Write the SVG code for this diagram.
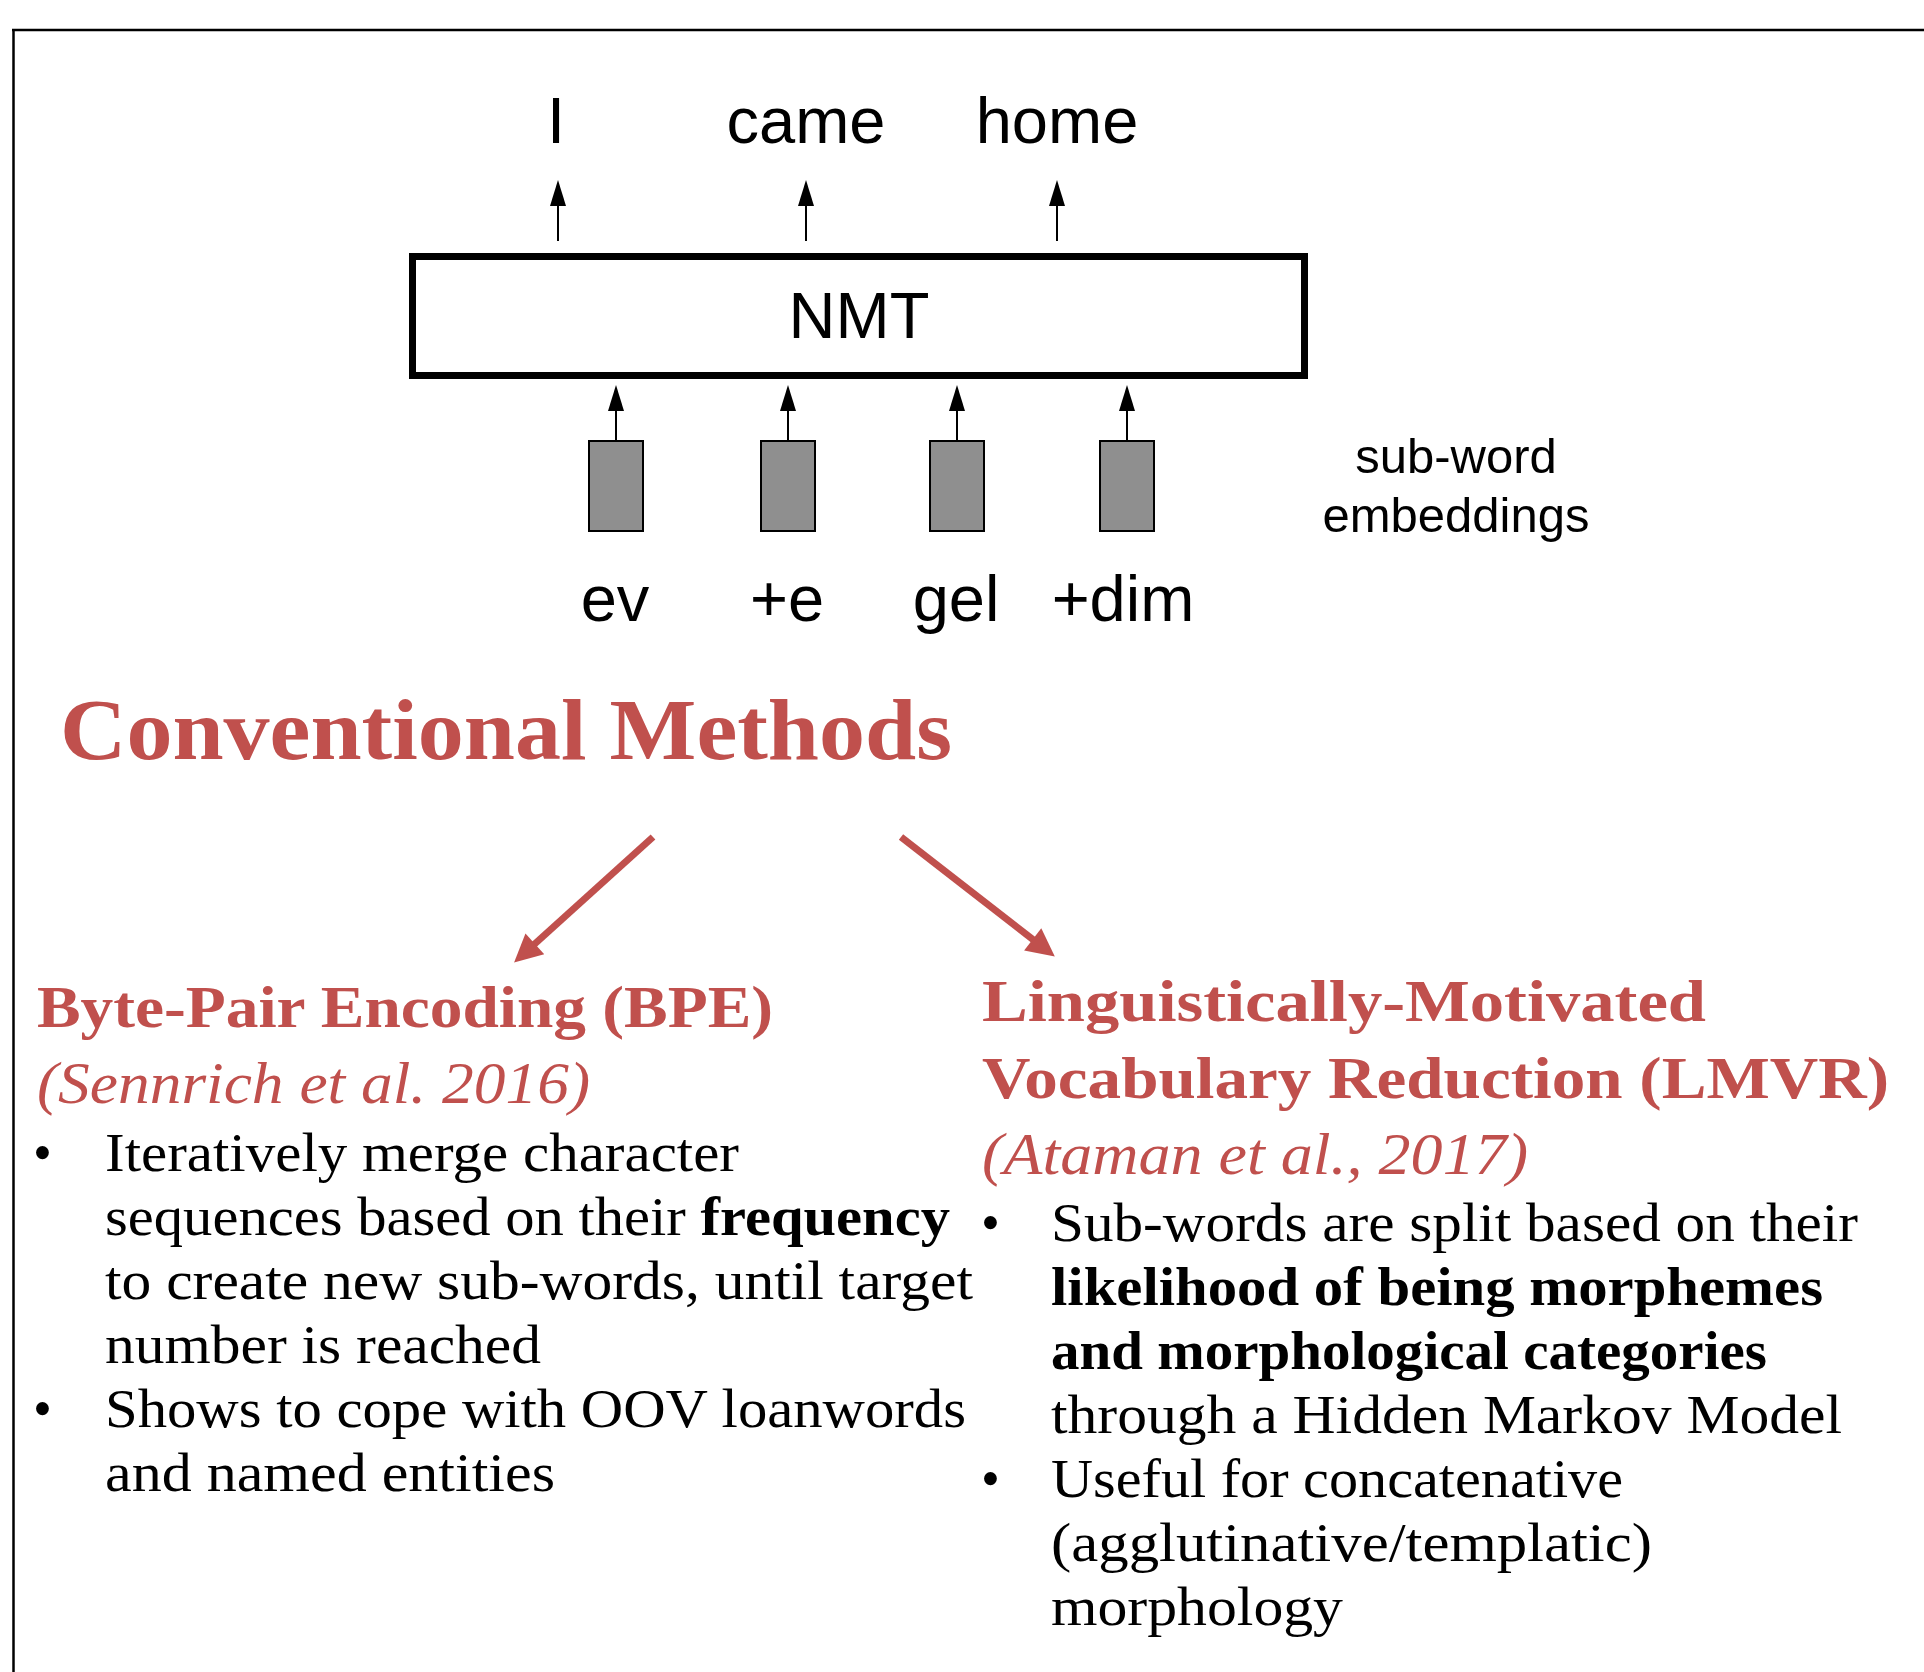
<svg xmlns="http://www.w3.org/2000/svg" width="1924" height="1672" viewBox="0 0 1924 1672">
<style>
.sans{font-family:"Liberation Sans",Arial,sans-serif;fill:#000;text-anchor:middle}
.lbl{font-size:65px}
.small{font-size:49px}
.head{font-family:"Liberation Serif","Times New Roman",serif;fill:#C0504D;font-weight:bold}
.cite{font-family:"Liberation Serif","Times New Roman",serif;fill:#C0504D;font-style:italic;font-size:60px}
.body{font-family:"Liberation Serif","Times New Roman",serif;fill:#000;font-size:54px}
.b{font-weight:bold}
.emb{fill:#8F8F8F;stroke:#000;stroke-width:2}
.blk{stroke:#000;stroke-width:2;fill:none}
.red{stroke:#C0504D;stroke-width:7;fill:none}
</style>
<defs>
<marker id="ah" viewBox="0 0 26 16" markerWidth="26" markerHeight="16" refX="11" refY="8" orient="auto" markerUnits="userSpaceOnUse">
<path d="M0,0 L26,8 L0,16 z" fill="#000"/>
</marker>
<marker id="rah" viewBox="0 0 10 10" markerWidth="30" markerHeight="28" refX="3.3" refY="5" orient="auto" markerUnits="userSpaceOnUse">
<path d="M0,0 L10,5 L0,10 z" fill="#C0504D"/>
</marker>
</defs>
<rect width="1924" height="1672" fill="#fff"/>
<g id="frame">
<line x1="12" y1="30" x2="1924" y2="30" stroke="#000" stroke-width="2.5"/>
<line x1="13.5" y1="29" x2="13.5" y2="1672" stroke="#000" stroke-width="2.5"/>
</g>
<g id="outputs">
<text class="sans lbl" x="556" y="143">I</text>
<text class="sans lbl" x="806" y="143">came</text>
<text class="sans lbl" x="1057" y="143">home</text>
</g>
<g id="nmt">
<rect x="412.5" y="256.5" width="892" height="119" fill="#fff" stroke="#000" stroke-width="7"/>
<text class="sans lbl" x="859" y="338">NMT</text>
</g>
<g id="emb-ev">
<rect class="emb" x="589" y="441" width="54" height="90"/>
<text class="sans lbl" x="615" y="621">ev</text>
</g>
<g id="emb-e">
<rect class="emb" x="761" y="441" width="54" height="90"/>
<text class="sans lbl" x="787" y="621">+e</text>
</g>
<g id="emb-gel">
<rect class="emb" x="930" y="441" width="54" height="90"/>
<text class="sans lbl" x="956" y="621">gel</text>
</g>
<g id="emb-dim">
<rect class="emb" x="1100" y="441" width="54" height="90"/>
<text class="sans lbl" x="1123" y="621">+dim</text>
</g>
<g id="subword-label">
<text class="sans small" x="1456" y="473">sub-word</text>
<text class="sans small" x="1456" y="532">embeddings</text>
</g>
<g id="conventional">
<text class="head" x="60" y="759" font-size="86" textLength="892" lengthAdjust="spacingAndGlyphs">Conventional Methods</text>
</g>
<g id="connectors">
<line class="blk" x1="558" y1="241" x2="558" y2="195" marker-end="url(#ah)"/>
<line class="blk" x1="806" y1="241" x2="806" y2="195" marker-end="url(#ah)"/>
<line class="blk" x1="1057" y1="241" x2="1057" y2="195" marker-end="url(#ah)"/>
<line class="blk" x1="616" y1="441" x2="616" y2="400" marker-end="url(#ah)"/>
<line class="blk" x1="788" y1="441" x2="788" y2="400" marker-end="url(#ah)"/>
<line class="blk" x1="957" y1="441" x2="957" y2="400" marker-end="url(#ah)"/>
<line class="blk" x1="1127" y1="441" x2="1127" y2="400" marker-end="url(#ah)"/>
<line class="red" x1="653" y1="837" x2="528" y2="950" marker-end="url(#rah)"/>
<line class="red" x1="901" y1="837" x2="1040" y2="945" marker-end="url(#rah)"/>
</g>
<g id="bpe">
<text class="head" x="37" y="1027" font-size="60" textLength="736" lengthAdjust="spacingAndGlyphs">Byte-Pair Encoding (BPE)</text>
<text class="cite" x="37" y="1103" textLength="553" lengthAdjust="spacingAndGlyphs">(Sennrich et al. 2016)</text>
<text class="body" x="33" y="1171">•</text>
<text class="body" x="105" y="1171" textLength="634" lengthAdjust="spacingAndGlyphs">Iteratively merge character</text>
<text class="body" x="105" y="1235" textLength="845" lengthAdjust="spacingAndGlyphs">sequences based on their <tspan class="b">frequency</tspan></text>
<text class="body" x="105" y="1299" textLength="868" lengthAdjust="spacingAndGlyphs">to create new sub-words, until target</text>
<text class="body" x="105" y="1363" textLength="436" lengthAdjust="spacingAndGlyphs">number is reached</text>
<text class="body" x="33" y="1427">•</text>
<text class="body" x="105" y="1427" textLength="861" lengthAdjust="spacingAndGlyphs">Shows to cope with OOV loanwords</text>
<text class="body" x="105" y="1491" textLength="450" lengthAdjust="spacingAndGlyphs">and named entities</text>
</g>
<g id="lmvr">
<text class="head" x="982" y="1021" font-size="60" textLength="724" lengthAdjust="spacingAndGlyphs">Linguistically-Motivated</text>
<text class="head" x="982" y="1098" font-size="60" textLength="907" lengthAdjust="spacingAndGlyphs">Vocabulary Reduction (LMVR)</text>
<text class="cite" x="982" y="1174" textLength="546" lengthAdjust="spacingAndGlyphs">(Ataman et al., 2017)</text>
<text class="body" x="981" y="1241">•</text>
<text class="body" x="1051" y="1241" textLength="807" lengthAdjust="spacingAndGlyphs">Sub-words are split based on their</text>
<text class="body b" x="1051" y="1305" textLength="772" lengthAdjust="spacingAndGlyphs">likelihood of being morphemes</text>
<text class="body b" x="1051" y="1369" textLength="716" lengthAdjust="spacingAndGlyphs">and morphological categories</text>
<text class="body" x="1051" y="1433" textLength="791" lengthAdjust="spacingAndGlyphs">through a Hidden Markov Model</text>
<text class="body" x="981" y="1497">•</text>
<text class="body" x="1051" y="1497" textLength="572" lengthAdjust="spacingAndGlyphs">Useful for concatenative</text>
<text class="body" x="1051" y="1561" textLength="601" lengthAdjust="spacingAndGlyphs">(agglutinative/templatic)</text>
<text class="body" x="1051" y="1625" textLength="292" lengthAdjust="spacingAndGlyphs">morphology</text>
</g>
</svg>
